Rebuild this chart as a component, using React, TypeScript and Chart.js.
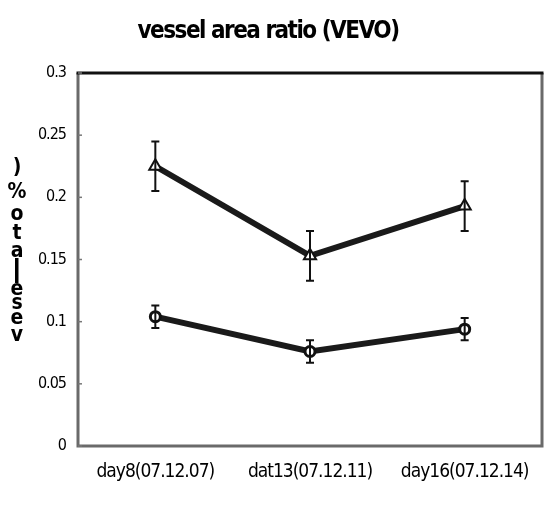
import React, { useEffect, useRef } from "react";
import { Chart, registerables } from "chart.js";

Chart.register(...registerables);

const categories = ["day8(07.12.07)", "dat13(07.12.11)", "day16(07.12.14)"];
const upperValues = [0.225, 0.153, 0.193];
const upperErrors = [0.02, 0.02, 0.02];
const lowerValues = [0.104, 0.076, 0.094];
const lowerErrors = [0.009, 0.009, 0.009];
const yTicks = [0, 0.05, 0.1, 0.15, 0.2, 0.25, 0.3];
const titleText = "vessel area ratio (VEVO)";
const yTitleChars = [")", "%", "o", "t", "a", "l", "e", "s", "e", "v"];

const FONT = "'DejaVu Sans Condensed', 'Liberation Sans Narrow', 'Liberation Sans', sans-serif";

const decorPlugin = {
  id: "decor",
  beforeDraw(chart: any) {
    (chart.ctx as any).letterSpacing = "-1px";
  },
  beforeDatasetsDraw(chart: any) {
    const { ctx, chartArea: a, scales } = chart;
    ctx.save();
    ctx.lineWidth = 3;
    ctx.strokeStyle = "#6a6a6a";
    ctx.beginPath();
    ctx.moveTo(a.left, a.top);
    ctx.lineTo(a.left, a.bottom);
    ctx.lineTo(a.right, a.bottom);
    ctx.lineTo(a.right, a.top);
    ctx.stroke();
    ctx.strokeStyle = "#111";
    ctx.beginPath();
    ctx.moveTo(a.left - 1.5, a.top);
    ctx.lineTo(a.right + 1.5, a.top);
    ctx.stroke();
    ctx.lineWidth = 1.5;
    ctx.strokeStyle = "#777";
    for (const t of yTicks) {
      const y = scales.y.getPixelForValue(t);
      ctx.beginPath();
      ctx.moveTo(a.left, y);
      ctx.lineTo(a.left + 4, y);
      ctx.stroke();
    }
    ctx.restore();
  },
  afterDatasetsDraw(chart: any) {
    const { ctx, scales } = chart;
    ctx.save();
    ctx.strokeStyle = "#111";
    ctx.lineWidth = 2;
    const sets = [
      { v: upperValues, e: upperErrors },
      { v: lowerValues, e: lowerErrors },
    ];
    for (const s of sets) {
      s.v.forEach((val, i) => {
        const x = scales.x.getPixelForValue(i);
        const y1 = scales.y.getPixelForValue(val + s.e[i]);
        const y2 = scales.y.getPixelForValue(val - s.e[i]);
        ctx.beginPath();
        ctx.moveTo(x, y1);
        ctx.lineTo(x, y2);
        ctx.moveTo(x - 4, y1);
        ctx.lineTo(x + 4, y1);
        ctx.moveTo(x - 4, y2);
        ctx.lineTo(x + 4, y2);
        ctx.stroke();
      });
    }
    ctx.restore();
  },
  afterDraw(chart: any) {
    const { ctx } = chart;
    ctx.save();
    ctx.fillStyle = "#000";
    ctx.textAlign = "center";
    ctx.textBaseline = "middle";
    (ctx as any).letterSpacing = "-1.5px";
    ctx.font = `bold 24px ${FONT}`;
    ctx.fillText(titleText, 268, 32);
    (ctx as any).letterSpacing = "0px";
    ctx.font = `bold 21px ${FONT}`;
    const ys = [168, 193, 215, 234, 252, 270, 290, 304, 319, 336];
    yTitleChars.forEach((c, i) => {
      if (c === "l") {
        ctx.fillRect(15, 258, 3.5, 25);
      } else {
        ctx.fillText(c, 17, ys[i]);
      }
    });
    ctx.restore();
  },
};

export default function App() {
  const ref = useRef<HTMLCanvasElement | null>(null);
  useEffect(() => {
    document.body.style.margin = "0";
    const chart = new Chart(ref.current as HTMLCanvasElement, {
      type: "line",
      data: {
        labels: categories,
        datasets: [
          {
            data: upperValues,
            borderColor: "#1a1a1a",
            borderWidth: 6,
            pointStyle: "triangle",
            pointRadius: 7,
            pointBackgroundColor: "#fff",
            pointBorderColor: "#111",
            pointBorderWidth: 2,
            tension: 0,
          },
          {
            data: lowerValues,
            borderColor: "#1a1a1a",
            borderWidth: 6,
            pointStyle: "circle",
            pointRadius: 5,
            pointBackgroundColor: "#fff",
            pointBorderColor: "#111",
            pointBorderWidth: 3,
            tension: 0,
          },
        ],
      },
      options: {
        animation: false,
        responsive: false,
        maintainAspectRatio: false,
        layout: { autoPadding: false, padding: { left: 0, right: 2, top: 73, bottom: 0 } },
        plugins: { legend: { display: false }, tooltip: { enabled: false }, title: { display: false } },
        scales: {
          x: {
            offset: true,
            grid: { display: false, drawTicks: false },
            border: { display: false },
            ticks: { color: "#000", font: { family: FONT, size: 19 }, padding: 15, maxRotation: 0, autoSkip: false },
            afterFit(scale: any) {
              scale.height = 59;
              scale.paddingLeft = 0;
              scale.paddingRight = 0;
            },
          },
          y: {
            min: 0,
            max: 0.3,
            grid: { display: false, drawTicks: false },
            border: { display: false },
            ticks: {
              stepSize: 0.05,
              color: "#000",
              font: { family: FONT, size: 16 },
              padding: 12,
              callback: (v: any) => String(Math.round(Number(v) * 100) / 100),
            },
            afterFit(scale: any) {
              scale.width = 78;
            },
          },
        },
      },
      plugins: [decorPlugin],
    });
    return () => chart.destroy();
  }, []);
  return (
    <div style={{ position: "absolute", left: 0, top: 0, width: 544, height: 505, background: "#fff" }}>
      <canvas ref={ref} width={544} height={505} style={{ width: 544, height: 505 }} />
    </div>
  );
}
